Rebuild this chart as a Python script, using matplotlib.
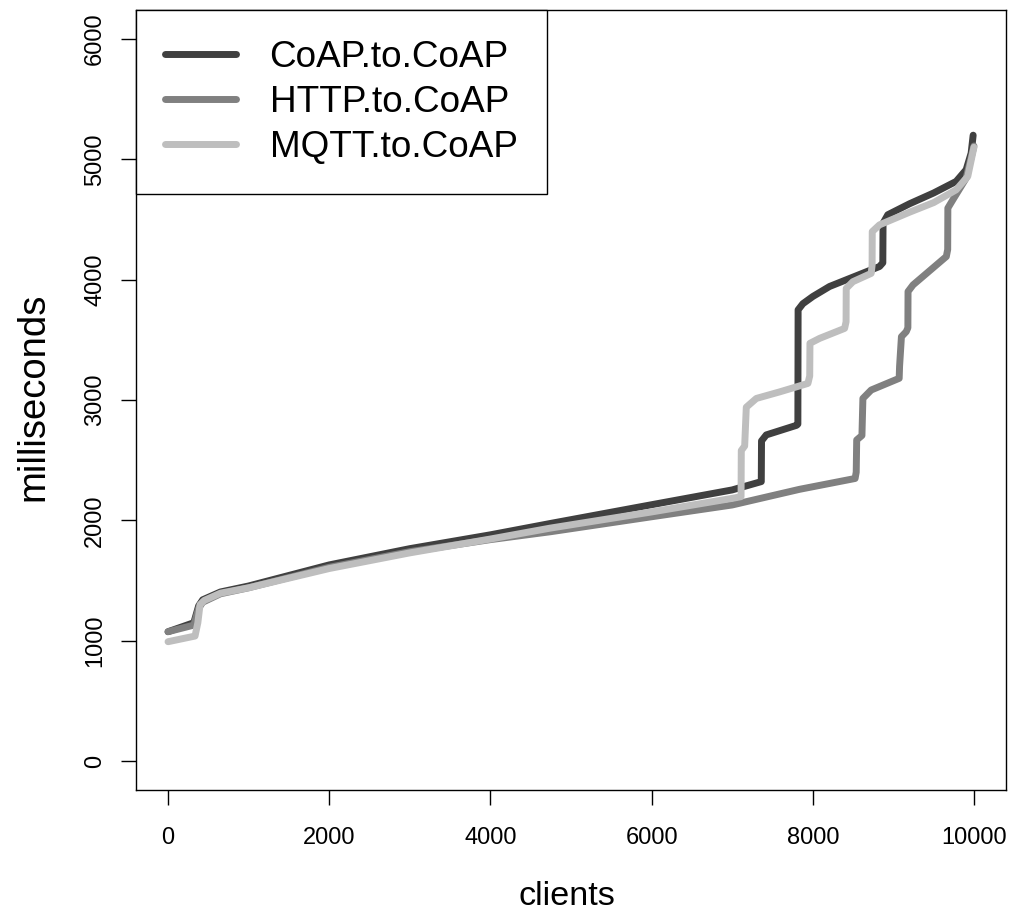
import matplotlib
matplotlib.use("Agg")
import matplotlib.pyplot as plt

plt.rcParams['font.family'] = ['Liberation Sans', 'DejaVu Sans']

# ---- data ----
coap_x = [0, 320, 380, 430, 650, 1000, 2000, 3000, 4000, 4750, 6000, 7000, 7361, 7364, 7423,
          7800, 7815, 7818, 7877, 8001, 8208, 8828, 8869, 8872, 8931, 9200, 9500, 9779, 9903, 9965, 9990]
coap_y = [1075, 1150, 1290, 1340, 1405, 1455, 1630, 1765, 1880, 1975, 2130, 2253, 2322, 2660, 2710,
          2790, 2800, 3749, 3800, 3860, 3943, 4109, 4140, 4469, 4539, 4630, 4720, 4816, 4913, 5051, 5200]

http_x = [0, 320, 380, 430, 650, 1000, 2000, 3000, 4000, 4750, 6000, 7000, 7836, 8525, 8539, 8545,
          8610, 8622, 8725, 9072, 9077, 9100, 9160, 9180, 9182, 9244, 9657, 9674, 9676, 9738, 9903, 10000]
http_y = [1075, 1130, 1270, 1320, 1390, 1440, 1610, 1740, 1840, 1906, 2030, 2128, 2258, 2348, 2400,
          2668, 2705, 3013, 3083, 3180, 3280, 3526, 3568, 3600, 3901, 3956, 4192, 4250, 4594, 4663, 4843, 5110]

mqtt_x = [0, 335, 370, 397, 450, 650, 1000, 2000, 3000, 4000, 4737, 6000, 7010, 7110, 7113, 7155, 7160,
          7175, 7300, 7592, 7940, 7962, 7965, 8085, 8395, 8413, 8415, 8498, 8725, 8736, 8738, 8828, 9200,
          9500, 9779, 9923, 10000]
mqtt_y = [992, 1039, 1150, 1300, 1335, 1395, 1440, 1600, 1730, 1845, 1935, 2070, 2184, 2197, 2580, 2618, 2700,
          2940, 3013, 3068, 3138, 3200, 3471, 3512, 3595, 3650, 3927, 3983, 4052, 4120, 4399, 4455, 4560,
          4640, 4746, 4857, 5100]

series_names = ["CoAP.to.CoAP", "HTTP.to.CoAP", "MQTT.to.CoAP"]
series_colors = ["#404040", "#808080", "#BEBEBE"]

xticks = [0, 2000, 4000, 6000, 8000, 10000]
yticks = [0, 1000, 2000, 3000, 4000, 5000, 6000]

# ---- figure ----
W, H = 1014, 910
fig = plt.figure(figsize=(W / 100, H / 100), dpi=100)
ax = fig.add_axes([135.8 / W, (H - 790) / H, (1006.2 - 135.8) / W, 780 / H])

lw = 5.0
for xs, ys, name, col in zip([coap_x, http_x, mqtt_x], [coap_y, http_y, mqtt_y],
                             series_names, series_colors):
    ax.plot(xs, ys, color=col, lw=lw, label=name, solid_capstyle='round',
            solid_joinstyle='round')

ax.set_xlim(-400, 10400)
ax.set_ylim(-240, 6240)

ax.set_xticks(xticks)
ax.set_xticklabels([str(t) for t in xticks], fontsize=17)
ax.set_yticks(yticks)
ax.set_yticklabels([str(t) for t in yticks], fontsize=17, rotation=90, va='center')
ax.tick_params(axis='both', direction='out', length=10.8, width=1.0, color='black')
ax.tick_params(axis='x', pad=16)
ax.tick_params(axis='y', pad=10.5)
for s in ax.spines.values():
    s.set_linewidth(1.0)
    s.set_color('black')

fig.text(566.5 / W, (H - 905) / H, "clients", fontsize=24.7, ha='center', va='baseline')
fig.text(43 / W, 1 - 396.5 / H, "milliseconds", fontsize=27.5, rotation=90,
         rotation_mode='anchor', ha='center', va='baseline')

leg = ax.legend(loc='upper left', bbox_to_anchor=(0, 1), borderaxespad=0,
                prop={'size': 26.6}, handlelength=1.9, handletextpad=0.92,
                borderpad=0.8, labelspacing=0.27, fancybox=False, framealpha=1,
                edgecolor='black')
leg.get_frame().set_linewidth(1.0)

fig.savefig("out.png", dpi=100)
